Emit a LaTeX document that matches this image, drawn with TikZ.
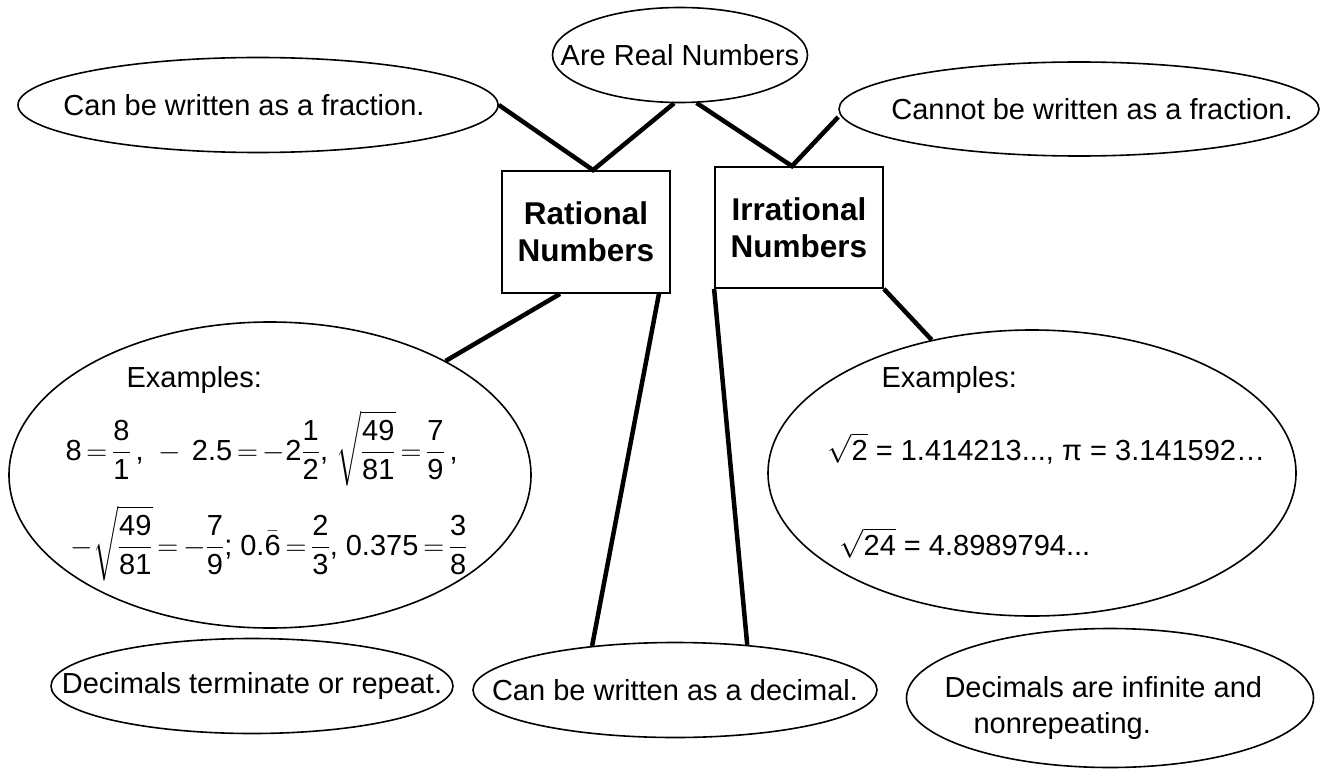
\RequirePackage{fix-cm}
\documentclass[tikz,border=0pt]{standalone}
\usepackage{amsmath}
\usepackage{fontspec}
\setmainfont{Liberation Sans}
\usetikzlibrary{shapes.geometric}
% numbers in maths set in the text font
\newcommand{\digits}[1]{\text{#1}}

\begin{document}
\begin{tikzpicture}[x=1pt, y=-1pt, font=\fontsize{29}{36}\selectfont,
  bubble/.style={draw, ellipse, line width=1.6pt, inner sep=0pt},
  box/.style={draw, line width=1.8pt, align=center, inner sep=0pt, font=\fontsize{31.5}{37}\selectfont\bfseries},
  mathline/.style={anchor=base west, execute at begin node={\thickmuskip=3mu\relax}},
  link/.style={line width=4.5pt}]
\useasboundingbox (0,0) rectangle (1327,770);
% top row
\node[bubble, minimum width=255pt, minimum height=95pt] (real) at (680,55) {};
\node (realtext) at (real) {Are Real Numbers};
\node[bubble, minimum width=480pt, minimum height=95pt] (frac) at (258,105) {};
\node (fractext) at ([xshift=-14pt]frac.center) {Can be written as a fraction.};
\node[bubble, minimum width=480pt, minimum height=94pt] (cannot) at (1079,109) {};
\node (cannottext) at ([xshift=13pt]cannot.center) {Cannot be written as a fraction.};
% the two kinds
\node[box, minimum width=168pt, minimum height=122pt] (rat) at (586,232) {Rational\\Numbers};
\node[box, minimum width=168pt, minimum height=121pt] (irr) at (799,227.5) {Irrational\\Numbers};
% examples
\node[bubble, minimum width=522pt, minimum height=306pt] (exl) at (270,475) {};
\node[anchor=base west] (exlhead) at (123,387) {Examples:};
\node[mathline] (exlone) at (62,460) {$\digits{8} = \dfrac{\digits{8}}{\digits{1}}\,\digits{, }-\,\digits{2.5} = -\digits{2}\dfrac{\digits{1}}{\digits{2}}\digits{, }\sqrt{\dfrac{\digits{49}}{\digits{81}}} = \dfrac{\digits{7}}{\digits{9}}\,\digits{,}$};
\node[mathline] (exltwo) at (67,555) {$-\sqrt{\dfrac{\digits{49}}{\digits{81}}} = -\dfrac{\digits{7}}{\digits{9}}\digits{; }\digits{0.}\bar{\digits{6}} = \dfrac{\digits{2}}{\digits{3}}\digits{, }\digits{0.375} = \dfrac{\digits{3}}{\digits{8}}$};
\node[bubble, minimum width=528pt, minimum height=286pt] (exr) at (1032,473) {};
\node[anchor=base west] (exrhead) at (878,387) {Examples:};
\node[anchor=base west] (exrone) at (824,460) {$\sqrt{\digits{2}}$ = 1.414213..., π = 3.141592…};
\node[anchor=base west] (exrtwo) at (836,555) {$\sqrt{\digits{24}}$ = 4.8989794...};
% bottom row
\node[bubble, minimum width=402pt, minimum height=95pt] (term) at (252,686) {};
\node (termtext) at (term) {Decimals terminate or repeat.};
\node[bubble, minimum width=404pt, minimum height=95pt] (dec) at (675,690) {};
\node (dectext) at (dec) {Can be written as a decimal.};
\node[bubble, minimum width=407pt, minimum height=139pt] (inf) at (1110,698) {};
\node[anchor=west, align=left] (inftext) at (941,707.5) {Decimals are infinite and\\\hspace*{1em}nonrepeating.};
% connectors
\draw[link] (frac.east) -- ([xshift=7pt]rat.north) -- (real.263);
\draw[link] (real.289) -- ([xshift=-7pt]irr.north) -- ([yshift=-8pt]cannot.west);
\draw[link] ([xshift=-26pt]rat.south) -- (exl.33);
\draw[link] ([xshift=-12pt]rat.south east) -- (dec.152);
\draw[link] (irr.south west) -- (dec.32);
\draw[link] (irr.south east) -- (exr.127);
\end{tikzpicture}
\end{document}
